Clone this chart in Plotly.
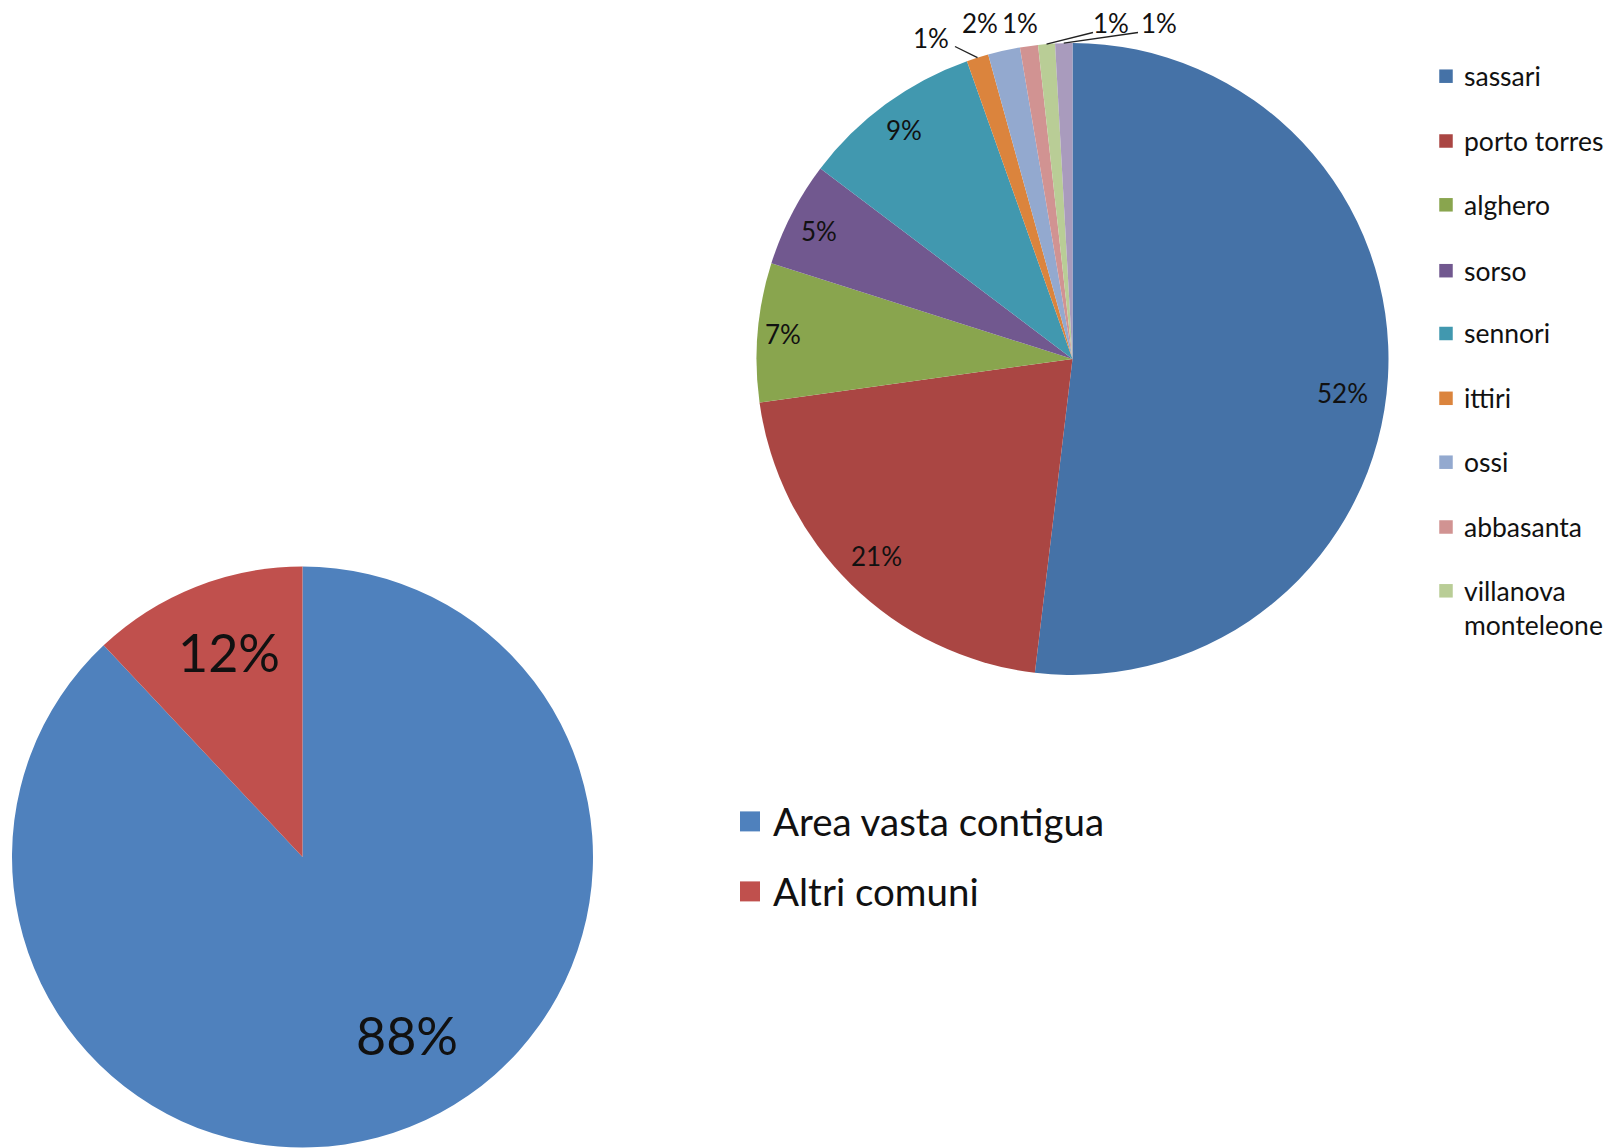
import math
import plotly.graph_objects as go

# Ripartizione per comune (grafico a destra), valori in percentuale
comuni = ["sassari", "porto torres", "alghero", "sorso", "sennori", "ittiri",
          "ossi", "abbasanta", "villanova monteleone", "altri"]
quote_comuni = [51.9, 20.9, 7.1, 5.4, 9.28, 1.12, 1.64, 0.92, 0.86, 0.88]
colori_comuni = ["#4572A7", "#AA4643", "#89A54E", "#71588F", "#4198AF",
                 "#DB843D", "#93A9CF", "#D19392", "#B9CD96", "#A99BBD"]
voci_legenda_comuni = ["sassari", "porto torres", "alghero", "sorso", "sennori",
                       "ittiri", "ossi", "abbasanta", "villanova<br>monteleone"]

# Area vasta contigua contro altri comuni (grafico a sinistra)
aree = ["Area vasta contigua", "Altri comuni"]
quote_aree = [88, 12]
colori_aree = ["#4F81BD", "#C0504D"]

W, H = 1614, 1148
FONT = "Lato, 'Open Sans', sans-serif"
INK = "#111111"

# centro e raggio (pixel) dei due grafici
DX = dict(cx=1072.5, cy=359.0, r=316.0)
SX = dict(cx=302.5, cy=857.0, r=290.5)


def px(x, y):
    return x / W, 1 - y / H


def dominio(g):
    x0, y1 = px(g["cx"] - g["r"], g["cy"] - g["r"])
    x1, y0 = px(g["cx"] + g["r"], g["cy"] + g["r"])
    return dict(x=[x0, x1], y=[max(0, y0), min(1, y1)])


def punto(g, frazione, gradi):
    a = math.radians(gradi)
    return (g["cx"] + frazione * g["r"] * math.sin(a),
            g["cy"] - frazione * g["r"] * math.cos(a))


def angoli_medi(valori):
    tot = sum(valori)
    out, acc = [], 0.0
    for v in valori:
        out.append((acc + v / 2) / tot * 360)
        acc += v
    return out


fig = go.Figure()
fig.add_trace(go.Pie(
    labels=aree, values=quote_aree, sort=False, direction="clockwise",
    rotation=0, textinfo="none", showlegend=False,
    marker=dict(colors=colori_aree, line=dict(width=0)),
    domain=dominio(SX), hoverinfo="label+percent"))
fig.add_trace(go.Pie(
    labels=comuni, values=quote_comuni, sort=False, direction="clockwise",
    rotation=0, textinfo="none", showlegend=False,
    marker=dict(colors=colori_comuni, line=dict(width=0)),
    domain=dominio(DX), hoverinfo="label+percent"))

annotazioni, forme = [], []


def testo(x, y, t, size, xanchor="center"):
    xp, yp = px(x, y)
    annotazioni.append(dict(x=xp, y=yp, xref="paper", yref="paper", text=t,
                            showarrow=False, xanchor=xanchor, yanchor="middle",
                            align=xanchor if xanchor != "center" else "center",
                            font=dict(family=FONT, size=size, color=INK)))


def linea(p0, p1):
    x0, y0 = px(*p0)
    x1, y1 = px(*p1)
    forme.append(dict(type="line", xref="paper", yref="paper", x0=x0, y0=y0,
                      x1=x1, y1=y1, line=dict(color="#222222", width=1.3)))


def quadrato(x, y, lato, colore):
    x0, y1 = px(x - lato / 2, y - lato / 2)
    x1, y0 = px(x + lato / 2, y + lato / 2)
    forme.append(dict(type="rect", xref="paper", yref="paper", x0=x0, y0=y0,
                      x1=x1, y1=y1, fillcolor=colore, line=dict(width=0)))


# etichette percentuali, grafico a sinistra
tot_aree = sum(quote_aree)
pos_aree = [(0.71, -9.0), (0.75, 2.0)]  # (frazione del raggio, scarto angolare)
for v, a, (f, da) in zip(quote_aree, angoli_medi(quote_aree), pos_aree):
    x, y = punto(SX, f, a + da)
    testo(x, y, f"{round(v / tot_aree * 100)}%", 52)

# etichette percentuali, grafico a destra
tot_comuni = sum(quote_comuni)
medi = angoli_medi(quote_comuni)
interne = [(0.86, 3.8), (0.88, 0.5), (0.92, 0.0), (0.90, -0.5), (0.90, 0.0)]
for i, (f, da) in enumerate(interne):
    x, y = punto(DX, f, medi[i] + da)
    testo(x, y, f"{round(quote_comuni[i] / tot_comuni * 100)}%", 26)

# fette piccole: etichette esterne con linee di richiamo
esterne = {5: ((931, 38), (955, 46.5)),
           6: ((980, 22.5), None),
           7: ((1020, 22.5), None),
           8: ((1110.5, 22.5), (1093, 32.5)),
           9: ((1158.5, 22.5), (1138, 32.5))}
for i, (centro, aggancio) in esterne.items():
    testo(centro[0], centro[1],
          f"{round(quote_comuni[i] / tot_comuni * 100)}%", 26)
    if aggancio is not None:
        linea(punto(DX, 1.0, medi[i]), aggancio)

# legenda del grafico a destra
y_voci = [76.2, 141, 204.8, 270.7, 333.5, 398.3, 462.2, 527, 590.8]
for voce, colore, y in zip(voci_legenda_comuni, colori_comuni, y_voci):
    quadrato(1446, y, 13.5, colore)
    yt = y + (17 if "<br>" in voce else 0)
    testo(1462, yt, voce, 26.5, xanchor="left")

# legenda del grafico a sinistra
for voce, colore, y in zip(aree, colori_aree, [821.4, 891.4]):
    quadrato(750, y, 20, colore)
    testo(771, y, voce, 38.5, xanchor="left")

fig.update_layout(width=W, height=H, autosize=False,
                  margin=dict(l=0, r=0, t=0, b=0),
                  paper_bgcolor="white", plot_bgcolor="white",
                  annotations=annotazioni, shapes=forme,
                  font=dict(family=FONT, color=INK))
fig.write_html("out.html")
